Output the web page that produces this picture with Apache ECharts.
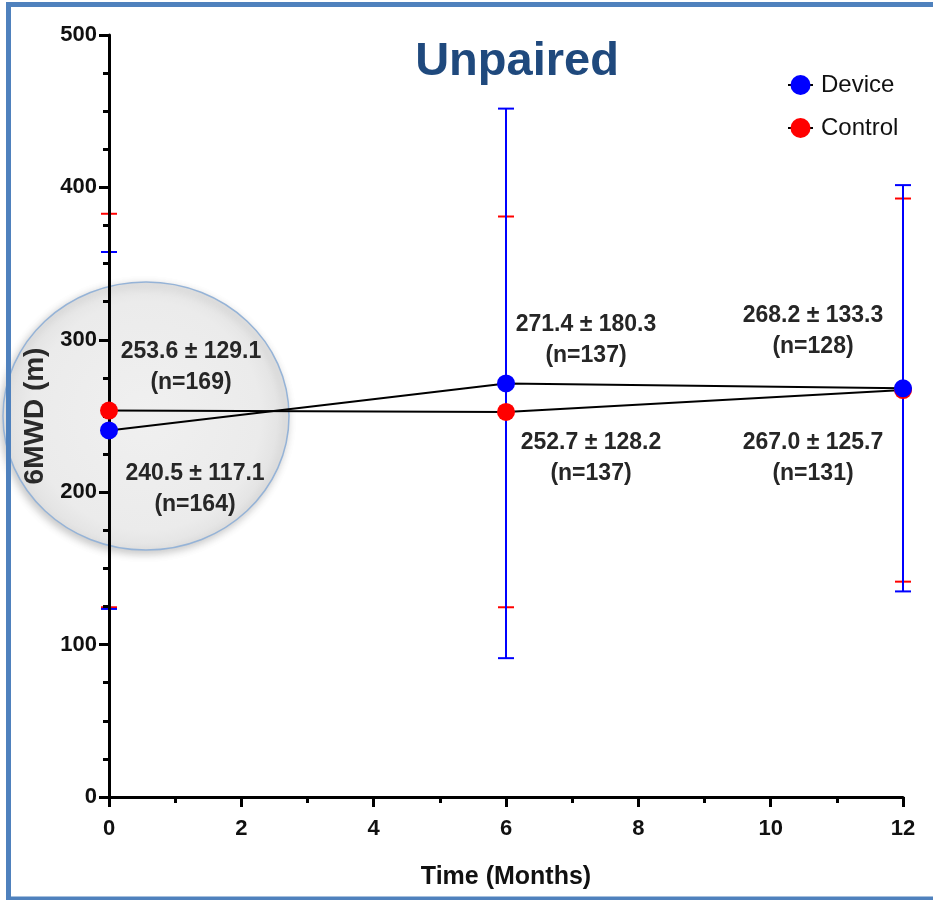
<!DOCTYPE html>
<html>
<head>
<meta charset="utf-8">
<script src="https://cdn.jsdelivr.net/npm/echarts@6/dist/echarts.min.js"></script>
<style>
html,body{margin:0;padding:0;background:#fff;}
#chart{width:933px;height:900px;}
</style>
</head>
<body>
<div id="chart"></div>
<script>
// ---- data ----
const months = [0, 6, 12];
const xTicks = [0, 2, 4, 6, 8, 10, 12];
const yTicks = [0, 100, 200, 300, 400, 500];
const deviceMean = [240.5, 271.4, 268.2];
const deviceSD = [117.1, 180.3, 133.3];
const deviceN = [164, 137, 128];
const controlMean = [253.6, 252.7, 267.0];
const controlSD = [129.1, 128.2, 125.7];
const controlN = [169, 137, 131];
const seriesNames = ['Device', 'Control'];
const chartTitle = 'Unpaired';
const xName = 'Time (Months)';
const yName = '6MWD (m)';

// ---- styling (annotation label offsets relative to their points, px) ----
const deviceLabelOffsets = [[86, 59], [80, -43], [-90, -57]];
const controlLabelOffsets = [[82, -43], [85, 46], [-90, 68]];

const FONT = "'Liberation Sans', Arial, sans-serif";
const BLUE = '#0000ff';
const RED = '#ff0000';

function errData(means, sds) {
  return months.map((m, i) => [m, +(means[i] - sds[i]).toFixed(1), +(means[i] + sds[i]).toFixed(1)]);
}
function errRender(color) {
  return function (params, api) {
    const x = api.value(0);
    const lo = api.coord([x, api.value(1)]);
    const hi = api.coord([x, api.value(2)]);
    const w = 8;
    const st = { stroke: color, lineWidth: 2 };
    return {
      type: 'group',
      children: [
        { type: 'line', shape: { x1: lo[0], y1: lo[1], x2: hi[0], y2: hi[1] }, style: st },
        { type: 'line', shape: { x1: hi[0] - w, y1: hi[1], x2: hi[0] + w, y2: hi[1] }, style: st },
        { type: 'line', shape: { x1: lo[0] - w, y1: lo[1], x2: lo[0] + w, y2: lo[1] }, style: st }
      ]
    };
  };
}
function lineData(means, sds, ns, offsets) {
  return months.map((m, i) => ({
    value: [m, means[i]],
    sd: sds[i],
    n: ns[i],
    label: { offset: offsets[i] }
  }));
}
const labelStyle = {
  show: true,
  position: 'inside',
  fontFamily: FONT,
  fontWeight: 'bold',
  fontSize: 23,
  lineHeight: 31,
  color: '#262626',
  align: 'center',
  verticalAlign: 'middle',
  formatter: function (p) {
    return p.data.value[1].toFixed(1) + ' ± ' + p.data.sd.toFixed(1) + '\n(n=' + p.data.n + ')';
  }
};

const chart = echarts.init(document.getElementById('chart'), null, { renderer: 'canvas' });
chart.setOption({
  animation: false,
  backgroundColor: '#ffffff',
  title: {
    text: chartTitle,
    left: 512,
    top: 34,
    textAlign: 'center',
    textStyle: { fontFamily: FONT, fontWeight: 'bold', fontSize: 47, color: '#1f497d' }
  },
  legend: {
    orient: 'vertical',
    left: 782,
    top: 68,
    itemGap: 19,
    itemWidth: 25,
    itemHeight: 25,
    data: seriesNames,
    textStyle: { fontFamily: FONT, fontSize: 24, color: '#111', padding: [0, 0, 0, 3] }
  },
  graphic: [
    {
      type: 'ellipse',
      z: -10,
      shape: { cx: 146, cy: 416, rx: 143, ry: 134 },
      style: {
        fill: {
          type: 'radial', x: 0.5, y: 0.5, r: 0.5,
          colorStops: [{ offset: 0, color: '#f0f0f0' }, { offset: 0.85, color: '#ebebeb' }, { offset: 1, color: '#e3e3e3' }]
        },
        stroke: '#95b3d7',
        lineWidth: 1.5,
        shadowBlur: 8,
        shadowColor: 'rgba(0,0,0,0.22)',
        shadowOffsetX: -2,
        shadowOffsetY: 3
      }
    },
    {
      type: 'rect',
      z: 100,
      silent: true,
      shape: { x: 8.5, y: 4.5, width: 1000, height: 894.5 },
      style: { fill: 'none', stroke: '#4f81bd', lineWidth: 5 }
    }
  ],
  grid: { left: 109, right: 30, top: 35, bottom: 103, containLabel: false },
  xAxis: {
    type: 'value',
    min: xTicks[0],
    max: xTicks[xTicks.length - 1],
    interval: xTicks[1] - xTicks[0],
    z: 3,
    name: xName,
    nameLocation: 'middle',
    nameGap: 68,
    nameTextStyle: { fontFamily: FONT, fontWeight: 'bold', fontSize: 25, color: '#111' },
    splitLine: { show: false },
    axisLine: { onZero: false, lineStyle: { color: '#000', width: 3 } },
    axisTick: { show: true, length: 10, lineStyle: { color: '#000', width: 3 } },
    minorTick: { show: true, splitNumber: 2, length: 6, lineStyle: { color: '#000', width: 3 } },
    axisLabel: { margin: 21, fontFamily: FONT, fontWeight: 'bold', fontSize: 22, color: '#111' }
  },
  yAxis: {
    type: 'value',
    min: yTicks[0],
    max: yTicks[yTicks.length - 1],
    interval: yTicks[1] - yTicks[0],
    z: 3,
    name: yName,
    nameLocation: 'middle',
    nameGap: 46,
    nameRotate: 90,
    nameTextStyle: { fontFamily: FONT, fontWeight: 'bold', fontSize: 28, color: '#2a2a2a' },
    splitLine: { show: false },
    axisLine: { show: true, onZero: false, lineStyle: { color: '#000', width: 3 } },
    axisTick: { show: true, length: 10, lineStyle: { color: '#000', width: 3 } },
    minorTick: { show: true, splitNumber: 4, length: 6, lineStyle: { color: '#000', width: 3 } },
    axisLabel: { margin: 12, fontFamily: FONT, fontWeight: 'bold', fontSize: 22, color: '#111' }
  },
  series: [
    {
      name: 'ControlErr',
      type: 'custom',
      z: 2,
      silent: true,
      clip: false,
      renderItem: errRender(RED),
      data: errData(controlMean, controlSD)
    },
    {
      name: 'DeviceErr',
      type: 'custom',
      z: 3,
      silent: true,
      clip: false,
      renderItem: errRender(BLUE),
      data: errData(deviceMean, deviceSD)
    },
    {
      name: seriesNames[1],
      type: 'line',
      z: 4,
      symbol: 'circle',
      symbolSize: 18,
      itemStyle: { color: RED },
      lineStyle: { color: '#000', width: 2 },
      emphasis: { disabled: true },
      label: labelStyle,
      data: lineData(controlMean, controlSD, controlN, controlLabelOffsets)
    },
    {
      name: seriesNames[0],
      type: 'line',
      z: 5,
      symbol: 'circle',
      symbolSize: 18,
      itemStyle: { color: BLUE },
      lineStyle: { color: '#000', width: 2 },
      emphasis: { disabled: true },
      label: labelStyle,
      data: lineData(deviceMean, deviceSD, deviceN, deviceLabelOffsets)
    }
  ]
});
</script>
</body>
</html>
